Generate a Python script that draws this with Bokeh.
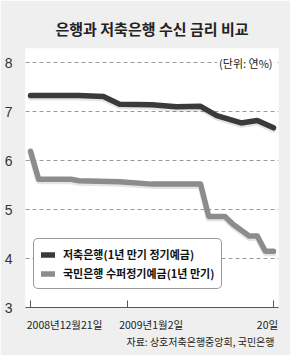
import pandas as pd
from bokeh.plotting import figure
from bokeh.models import Range1d, FixedTicker, Label, Legend, LegendItem, Title, LinearAxis
from bokeh.embed import file_html
from bokeh.resources import INLINE

# ---------------- data ----------------
title_text = "은행과 저축은행 수신 금리 비교"
unit_text = "(단위: 연%)"
source_text = "자료: 상호저축은행중앙회, 국민은행"

savings_name = "저축은행(1년 만기 정기예금)"
savings_dates = ["2008-12-21", "2008-12-27", "2008-12-30", "2009-01-01", "2009-01-05",
                 "2009-01-08", "2009-01-11", "2009-01-13", "2009-01-16", "2009-01-18",
                 "2009-01-20"]
savings_rates = [7.33, 7.33, 7.31, 7.15, 7.14, 7.10, 7.11, 6.92, 6.77, 6.82, 6.67]

kb_name = "국민은행 수퍼정기예금(1년 만기)"
kb_dates = ["2008-12-21", "2008-12-22", "2008-12-26", "2008-12-27", "2009-01-01",
            "2009-01-05", "2009-01-11", "2009-01-12", "2009-01-14", "2009-01-15",
            "2009-01-17", "2009-01-18", "2009-01-19", "2009-01-20"]
kb_rates = [6.19, 5.62, 5.62, 5.59, 5.57, 5.52, 5.52, 4.86, 4.86, 4.70, 4.46, 4.46, 4.15, 4.15]

tick_dates = ["2008-12-21", "2009-01-02", "2009-01-20"]
tick_labels = ["2008년12월21일", "2009년1월2일", "20일"]
y_ticks = [3, 4, 5, 6, 7, 8]

# ---------------- helpers ----------------
def ms(d):
    return pd.Timestamp(d).value / 1e6

DAY = 86400000.0
sx = [ms(d) for d in savings_dates]
kx = [ms(d) for d in kb_dates]
tx = [ms(d) for d in tick_dates]

KR = "Noto Sans CJK KR"

x_start = tx[0] - 0.62 * DAY
x_end = tx[-1] + 0.62 * DAY
y_start, y_end = 3, 8.29

p = figure(width=290, height=355, output_backend="svg", toolbar_location=None,
           x_range=Range1d(x_start, x_end), y_range=Range1d(y_start, y_end),
           min_border_left=25, min_border_right=12, min_border_top=48, min_border_bottom=48)
p.border_fill_color = "#efefef"
p.background_fill_color = "#ffffff"
p.outline_line_color = None

p.title = Title(text=title_text, align="center", offset=-3, standoff=19,
                text_font=KR, text_font_size="15px", text_font_style="bold",
                text_color="#222222")

# grid
p.xgrid.visible = False
p.ygrid.ticker = FixedTicker(ticks=[t for t in y_ticks if t > y_start])
p.ygrid.grid_line_color = "#9a9a9a"
p.ygrid.grid_line_dash = "4 3"
p.ygrid.grid_line_width = 1

# y axis
p.yaxis.ticker = FixedTicker(ticks=y_ticks)
p.yaxis.axis_line_color = None
p.yaxis.major_tick_line_color = None
p.yaxis.minor_tick_line_color = None
p.yaxis.major_label_standoff = 7
p.yaxis.major_label_text_font = "Liberation Sans"
p.yaxis.major_label_text_font_size = "14px"
p.yaxis.major_label_text_color = "#333333"

# x axis: ticks only
p.xaxis.ticker = FixedTicker(ticks=tx)
p.xaxis.axis_line_color = "#555555"
p.xaxis.axis_line_width = 1
p.xaxis.major_tick_line_color = "#555555"
p.xaxis.major_tick_in = 7
p.xaxis.major_tick_out = 0
p.xaxis.minor_tick_line_color = None
p.xaxis.major_label_standoff = 0
p.xaxis.major_label_overrides = {t: "" for t in tx}
p.xaxis.major_label_text_font_size = "1px"

# second x axis: the tick labels, set beside their ticks
label_shift_days = [4.2, 2.9, -0.74]
label_pos = [t + s * DAY for t, s in zip(tx, label_shift_days)]
lab_axis = LinearAxis(ticker=FixedTicker(ticks=label_pos),
                      major_label_overrides={v: l for v, l in zip(label_pos, tick_labels)},
                      axis_line_color=None, major_tick_line_color=None,
                      minor_tick_line_color=None, major_label_standoff=3,
                      major_label_text_font=KR, major_label_text_font_size="10.5px",
                      major_label_text_color="#222222")
p.add_layout(lab_axis, "below")

p.add_layout(Title(text=source_text, align="right", offset=4, standoff=-6,
                   text_font=KR, text_font_size="10px", text_font_style="normal",
                   text_color="#222222"), "below")

# lines (soft shadow first)
shadow = 2.0 / 49.0
p.line(sx, [v - shadow for v in savings_rates], line_color="#000000", line_alpha=0.10,
       line_width=6, line_join="round", line_cap="round")
p.line(kx, [v - shadow for v in kb_rates], line_color="#000000", line_alpha=0.10,
       line_width=6, line_join="round", line_cap="round")
r1 = p.line(sx, savings_rates, line_color="#3a3a3a", line_width=5.5,
            line_join="round", line_cap="round")
r2 = p.line(kx, kb_rates, line_color="#8c8c8c", line_width=5.5,
            line_join="round", line_cap="round")

legend = Legend(items=[LegendItem(label=savings_name, renderers=[r1]),
                       LegendItem(label=kb_name, renderers=[r2])],
                location=(8, 18), padding=7, spacing=3, margin=0,
                glyph_width=14, glyph_height=15, label_height=15, label_standoff=8,
                label_text_font=KR, label_text_font_size="11px", label_text_color="#111111",
                label_text_font_style="bold",
                border_line_color="#333333", border_line_width=1,
                background_fill_color="#ffffff", background_fill_alpha=1)
try:
    legend.border_radius = 5
except Exception:
    pass
p.add_layout(legend)

p.add_layout(Label(x=x_end, y=8, x_offset=-4, text=unit_text, text_align="right",
                   text_baseline="middle", text_font=KR, text_font_size="11px",
                   text_color="#222222", background_fill_color="#ffffff",
                   background_fill_alpha=1, padding=2))

open("out.html", "w").write(file_html(p, INLINE))
